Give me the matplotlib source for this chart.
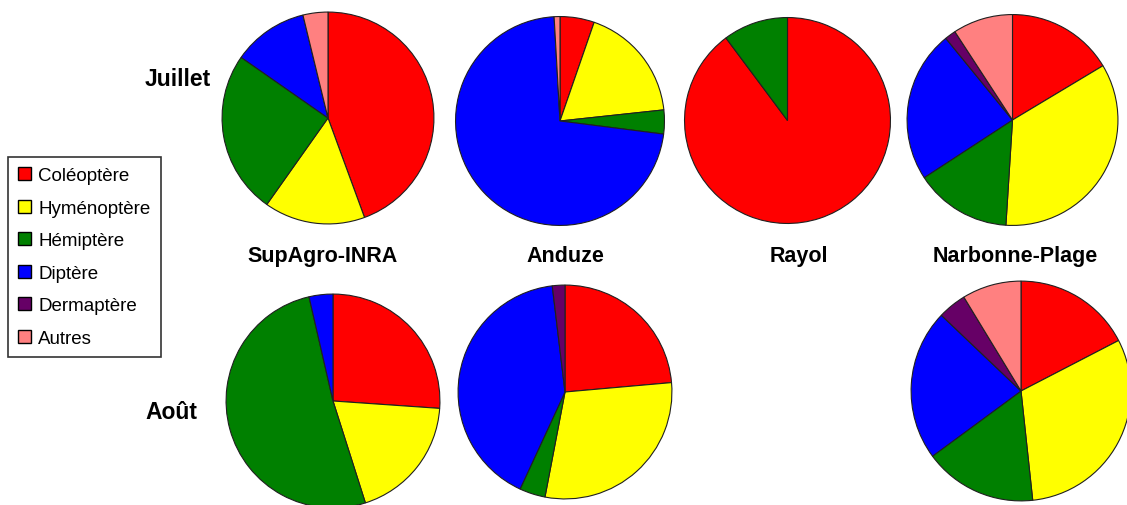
import matplotlib.pyplot as plt
import matplotlib.patches as mpatches

plt.rcParams['font.family'] = ['Liberation Sans', 'DejaVu Sans']

# ordres d'insectes et couleurs
categories = ['Coléoptère', 'Hyménoptère', 'Hémiptère', 'Diptère', 'Dermaptère', 'Autres']
colors = ['#ff0000', '#ffff00', '#008000', '#0000ff', '#660066', '#ff8080']

sites = ['SupAgro-INRA', 'Anduze', 'Rayol', 'Narbonne-Plage']
months = ['Juillet', 'Août']

# pourcentages par site (None = pas de relevé)
juillet_supagro = [44.4, 15.4, 24.9, 11.5, 0, 3.8]
juillet_anduze = [5.3, 18.0, 3.7, 72.1, 0, 0.9]
juillet_rayol = [89.8, 0, 10.2, 0, 0, 0]
juillet_narbonne = [16.4, 34.6, 14.8, 23.3, 1.7, 9.2]

aout_supagro = [26.1, 19.0, 51.3, 3.6, 0, 0]
aout_anduze = [23.6, 29.4, 3.9, 41.2, 1.9, 0]
aout_rayol = None
aout_narbonne = [17.4, 30.9, 16.6, 22.2, 4.2, 8.7]

data = [[juillet_supagro, juillet_anduze, juillet_rayol, juillet_narbonne],
        [aout_supagro, aout_anduze, aout_rayol, aout_narbonne]]

W, H = 1127, 506
fig = plt.figure(figsize=(W / 100, H / 100), dpi=100)

# centre (x, y) et rayon de chaque camembert, en pixels
layout = [[(328, 119, 107), (560, 122, 105.5), (787.5, 121.5, 104), (1012.5, 121, 106.5)],
          [(333, 402, 108), (565, 393, 108), None, (1021, 392, 111)]]

for row in range(2):
    for col in range(4):
        vals = data[row][col]
        if vals is None:
            continue
        cx, cy, r = layout[row][col]
        ax = fig.add_axes([(cx - r) / W, 1 - (cy + r) / H, 2 * r / W, 2 * r / H])
        v = [x for x in vals if x > 0]
        c = [colors[i] for i, x in enumerate(vals) if x > 0]
        ax.pie(v, colors=c, startangle=90, counterclock=False, radius=1,
               wedgeprops=dict(edgecolor='#202020', linewidth=0.8))
        ax.set_xlim(-1.01, 1.01)
        ax.set_ylim(-1.01, 1.01)
        ax.axis('off')

# titres des mois
fig.text(145 / W, 1 - 80 / H, months[0], fontsize=16.5, fontweight='bold', va='center', ha='left')
fig.text(145 / W, 1 - 413 / H, months[1], fontsize=16.5, fontweight='bold', va='center', ha='left')

# noms des sites
for x, name in zip([323, 565, 799, 1015], sites):
    fig.text(x / W, 1 - 257 / H, name, fontsize=15.5, fontweight='bold', va='center', ha='center')

# légende
handles = [mpatches.Patch(facecolor=col, edgecolor='black', linewidth=1.0, label=lab)
           for col, lab in zip(colors, categories)]
leg = fig.legend(handles=handles, loc='upper left',
                 bbox_to_anchor=(8 / W, 1 - 158 / H), fontsize=13.5,
                 frameon=True, fancybox=False, edgecolor='black',
                 handlelength=0.7, handleheight=0.7, handletextpad=0.35,
                 labelspacing=0.82, borderpad=0.55, borderaxespad=0)
leg.get_frame().set_linewidth(1.2)

fig.savefig('out.png', dpi=100)
